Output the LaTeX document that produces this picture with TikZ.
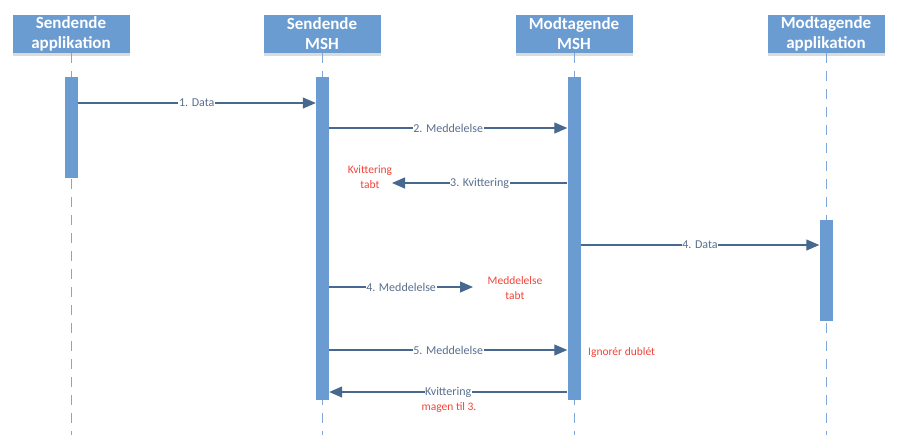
\documentclass[tikz,border=0pt]{standalone}
\usepackage{fontspec}
\setmainfont{Carlito}
\usetikzlibrary{arrows.meta,shadows}
\definecolor{boxblue}{HTML}{6A9BD1}
\definecolor{lifeblue}{HTML}{7EA6D6}
\definecolor{msgblue}{HTML}{48698F}
\definecolor{msgtext}{HTML}{5A6F8E}
\definecolor{lostred}{HTML}{F0453A}

\tikzset{
	head/.style={fill=boxblue, text=white, align=center, inner sep=0pt,
		minimum width=117pt, minimum height=38pt,
		font=\fontsize{17}{20}\selectfont\bfseries,
		drop shadow={shadow xshift=0pt, shadow yshift=-2.5pt, fill=black!40, opacity=.35}},
	life/.style={draw=lifeblue, line width=1pt, dash pattern=on 10pt off 8pt},
	bar/.style={fill=boxblue, draw=none, minimum width=13pt, inner sep=0pt},
	msg/.style={draw=msgblue, line width=1.2pt, -{Triangle[length=13pt,width=11pt]}},
	lbl/.style={fill=white, text=msgtext, inner sep=0.6pt, font=\fontsize{12}{14}\selectfont},
	lost/.style={text=lostred, align=center, inner sep=0pt, font=\fontsize{11.5}{14.5}\selectfont}
}

\begin{document}
\begin{tikzpicture}[x=1pt, y=-1pt]
			%%%%% START %%%%%
			\useasboundingbox (0,0) rectangle (900,445);
			
			\node[head] (sapp) at (71, 34) {Sendende\\applikation};
			\node[head] (smsh) at (322, 34) {Sendende\\MSH};
			\node[head] (mmsh) at (574, 34) {Modtagende\\MSH};
			\node[head] (mapp) at (826, 34) {Modtagende\\applikation};
			
			\draw[life] (sapp.south) -- (71, 435);
			\draw[life] (smsh.south) -- (322, 435);
			\draw[life] (mmsh.south) -- (574, 435);
			\draw[life] (mapp.south) -- (826, 435);
			
			\node[bar, minimum height=101pt] (act1) at (71, 127.5) {};
			\node[bar, minimum height=323pt] (act2) at (322.5, 238.5) {};
			\node[bar, minimum height=323pt] (act3) at (574, 238.5) {};
			\node[bar, minimum height=101pt] (act4) at (826, 270.5) {};
			
			\draw[msg] (act1.east |- 0,103) -- node[lbl] {1. Data} (act2.west |- 0,103);
			\draw[msg] (act2.east |- 0,128) -- node[lbl] {2. Meddelelse} (act3.west |- 0,128);
			
			\coordinate (lostack) at (392, 183);
			\draw[msg] (act3.west |- lostack) -- node[lbl] {3. Kvittering} (lostack);
			\node[lost] (acktabt) at (370, 177) {Kvittering\\tabt};
			
			\draw[msg] (act3.east |- 0,245) -- node[lbl] {4. Data} (act4.west |- 0,245);
			
			\coordinate (lostmsg) at (473, 287);
			\draw[msg] (act2.east |- lostmsg) -- node[lbl] {4. Meddelelse} (lostmsg);
			\node[lost] (msgtabt) at (515, 288) {Meddelelse\\tabt};
			
			\draw[msg] (act2.east |- 0,350) -- node[lbl] {5. Meddelelse} (act3.west |- 0,350);
			\node[lost, anchor=west] (dublet) at (588, 352) {Ignorér dublét};
			
			\draw[msg] (act3.west |- 0,392) -- node[lbl] (kvit) {Kvittering} (act2.east |- 0,392);
			\node[lost] (magen) at (449, 407) {magen til 3.};
			
			%%%%% END %%%%%
\end{tikzpicture}
\end{document}
